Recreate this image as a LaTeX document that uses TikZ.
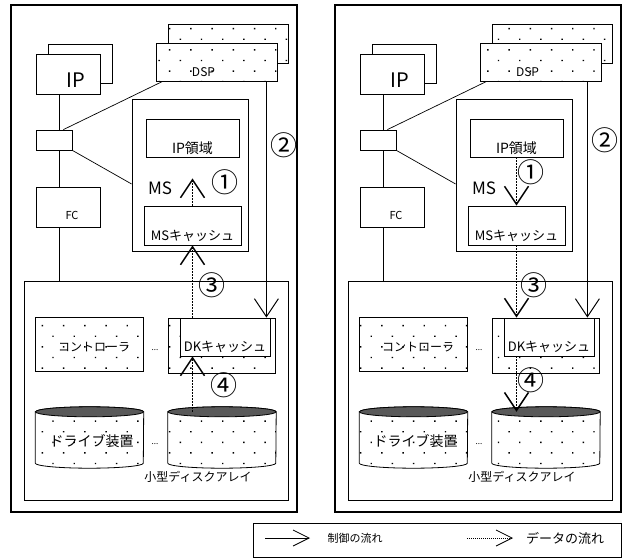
\documentclass[tikz,border=0pt]{standalone}
\usepackage{fontspec}
\setmainfont{Noto Sans CJK JP}
\usetikzlibrary{positioning, arrows.meta, calc, backgrounds, patterns.meta}

\begin{document}
\begin{tikzpicture}[
        x=1pt, y=-1pt,
        sz/.style={font=\fontsize{#1}{#1}\selectfont},
        frame/.style={rectangle, draw, line width=1.2pt, inner sep=0pt},
        box/.style={rectangle, draw, fill=white, line width=0.8pt, inner sep=0pt},
        dotbox/.style={box, postaction={pattern={Dots[angle=45, distance=15pt, radius=1pt]}}},
        wire/.style={line width=0.7pt},
        ctrl/.style={-{Straight Barb[length=18pt, width=24pt]}, line width=1pt},
        data/.style={ctrl, line width=1.5pt, dash pattern=on 1.5pt off 1.5pt},
        smalltip/.style={-{Straight Barb[length=16pt, width=16pt]}, line width=0.8pt},
        num/.style={sz=27, inner sep=0pt},
        ]
        \useasboundingbox (0,0) rectangle (624,559);

        % the two panels: same hardware, different flows
        \foreach \pn/\dx in {a/0, b/324} {
            \begin{scope}[xshift=\dx pt]
                \node[frame, minimum width=286pt, minimum height=507pt] (\pn-panel) at (154,258.5) {};

                % host side
                \node[box, minimum width=64pt, minimum height=39pt] (\pn-ipback) at (80,63.5) {};
                \node[box, minimum width=64pt, minimum height=40pt,
                    label={[sz=20, xshift=8pt, yshift=-6pt]center:IP}] (\pn-ip) at (68,74) {};
                \node[dotbox, minimum width=120pt, minimum height=39pt] (\pn-dspback) at (228,43.5) {};
                \node[dotbox, minimum width=121pt, minimum height=38pt,
                    label={[sz=12, xshift=-13pt, yshift=-10pt]center:DSP}] (\pn-dsp) at (216.5,62) {};
                \node[box, minimum width=36pt, minimum height=20pt] (\pn-jbox) at (54,140) {};
                \node[box, minimum width=64pt, minimum height=40pt,
                    label={[sz=11, xshift=4pt, yshift=-8pt]center:FC}] (\pn-fc) at (68,207) {};

                % main storage
                \node[box, minimum width=116pt, minimum height=152pt] (\pn-ms) at (190,175) {};
                \node[box, minimum width=93pt, minimum height=38pt,
                    label={[sz=14, yshift=-10pt]center:IP領域}] (\pn-ipa) at (192.5,138) {};
                \node[sz=17] (\pn-mslbl) at (160,188) {MS};
                \node[box, minimum width=97pt, minimum height=39pt,
                    label={[sz=13, yshift=-10pt]center:MSキャッシュ}] (\pn-msc) at (192.5,225.5) {};

                % small disk array
                \node[frame, line width=1pt, minimum width=264pt, minimum height=219pt] (\pn-dka) at (156,390.5) {};
                \node[dotbox, minimum width=108pt, minimum height=54pt,
                    label={[sz=12, xshift=5pt, yshift=-3pt]center:コントローラ}] (\pn-ctl) at (89,344) {};
                \node[sz=8] (\pn-dots1) at (155,350) {...};
                \node[dotbox, minimum width=107pt, minimum height=55pt] (\pn-dk) at (221.5,345.5) {};
                \node[box, minimum width=90pt, minimum height=38pt,
                    label={[sz=13, yshift=-10pt]center:DKキャッシュ}] (\pn-dkc) at (225,337) {};
                \node[minimum width=108pt, minimum height=51pt,
                    label={[sz=14, xshift=2pt, yshift=-4pt]center:ドライブ装置}] (\pn-drv) at (89.5,437.5) {};
                \node[sz=8] (\pn-dots2) at (155,444) {...};
                \node[minimum width=108pt, minimum height=51pt] (\pn-dsk) at (222,437.5) {};
                \node[sz=12] (\pn-arr) at (198,477) {小型ディスクアレイ};

                % drums
                \begin{scope}[on background layer]
                    \foreach \cy in {drv, dsk} {
                        \path[draw, line width=0.8pt, fill=white,
                            postaction={pattern={Dots[angle=45, distance=15pt, radius=1pt]}}]
                        (\pn-\cy.north west) -- (\pn-\cy.south west)
                        arc[start angle=180, end angle=360, x radius=54pt, y radius=5pt]
                        -- (\pn-\cy.north east)
                        arc[start angle=0, end angle=180, x radius=54pt, y radius=5pt] -- cycle;
                        \draw[line width=0.8pt, fill=black!65] (\pn-\cy.north) ellipse[x radius=54pt, y radius=5pt];
                    }
                \end{scope}

                % bus
                \coordinate (\pn-bus) at (59,0);
                \draw[wire] (\pn-ip.south -| \pn-bus) -- (\pn-jbox.north -| \pn-bus);
                \draw[wire] (\pn-jbox.south -| \pn-bus) -- (\pn-fc.north -| \pn-bus);
                \draw[wire] (\pn-fc.south -| \pn-bus) -- (\pn-dka.north -| \pn-bus);
                \draw[wire] ([xshift=-9pt]\pn-jbox.north east) -- ([xshift=7pt]\pn-dsp.south west);
                \draw[wire] (\pn-jbox.south east) -- ([yshift=-9pt]\pn-ms.west);
            \end{scope}
        }

        % left: data staged up towards the host
        \draw[data] (a-msc.north) -- node[num, pos=0.86, right=18pt] {①} ([yshift=-21pt]a-ipa.south);
        \coordinate (a-c2) at ([xshift=-11pt]a-dsp.south east);
        \draw[ctrl] (a-c2) -- node[num, pos=0.27, right=4pt] {②} (a-c2 |- a-dkc.north);
        \draw[data] (a-dkc.north -| a-msc) -- node[num, pos=0.45, right=5pt] {③} (a-msc.south);
        \draw[data] (a-dsk.north -| a-msc) -- node[num, pos=0.48, right=17pt] {④} (a-dkc.south -| a-msc);

        % right: data written back down to the drums
        \draw[data] (b-ipa.south) -- node[num, pos=0.3, right=0pt] {①} (b-msc.north);
        \coordinate (b-c2) at ([xshift=-14pt]b-dsp.south east);
        \draw[ctrl] (b-c2) -- node[num, pos=0.25, right=4pt] {②} (b-c2 |- b-dkc.north);
        \draw[data] (b-msc.south) -- node[num, pos=0.55, right=3pt] {③} (b-dkc.north -| b-msc);
        \draw[data] (b-dkc.south -| b-msc) -- node[num, pos=0.43, right=0pt] {④} (b-dsk.north -| b-msc);

        % legend
        \node[frame, line width=1pt, minimum width=368pt, minimum height=34pt] (legend) at (437,540) {};
        \coordinate (ctl-a) at (265,538);
        \coordinate (ctl-b) at (310,538);
        \draw[smalltip] (ctl-a) -- (ctl-b);
        \node[sz=11] (ctl-txt) at (355,538) {制御の流れ};
        \coordinate (dat-a) at (467,538);
        \coordinate (dat-b) at (513,538);
        \draw[smalltip, dash pattern=on 1pt off 1pt] (dat-a) -- (dat-b);
        \node[sz=13] (dat-txt) at (565,538) {データの流れ};
    \end{tikzpicture}
\end{document}
